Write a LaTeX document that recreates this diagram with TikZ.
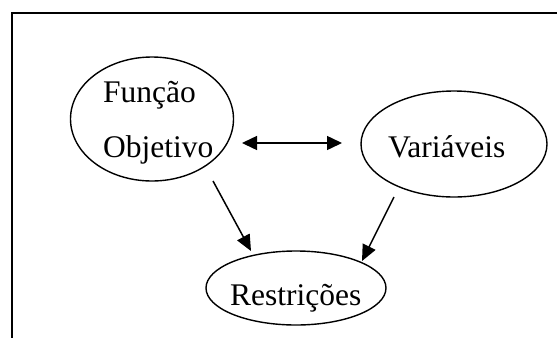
\documentclass[tikz,border=0pt]{standalone}
\usepackage{fontspec}
\setmainfont{Liberation Serif}
\usetikzlibrary{arrows.meta,shapes.geometric}
\begin{document}
\begin{tikzpicture}[x=1pt,y=-1pt,
  oval/.style={draw,ellipse,line width=1.4pt,inner sep=0pt,outer sep=0pt},
  lbl/.style={anchor=base west,inner sep=0pt,font=\fontsize{31.5}{38}\selectfont},
  arr/.style={line width=1.5pt,-{Triangle[length=16pt,width=14pt]}},
  darr/.style={line width=1.5pt,{Triangle[length=15pt,width=14pt]}-{Triangle[length=15pt,width=14pt]}}]
\useasboundingbox (0,0) rectangle (557,338);
% frame (cropped)
\coordinate (tr) at (557,13);
\coordinate (tl) at (12,13);
\coordinate (bl) at (12,338);
\draw[line width=2pt] (tr) -- (tl) -- (bl);
% ellipses
\node[oval,minimum width=163pt,minimum height=124pt] (fo) at (152,119) {};
\node[oval,minimum width=186pt,minimum height=106pt] (va) at (454,144) {};
\node[oval,minimum width=180pt,minimum height=74pt] (re) at (296,288) {};
% texts
\node[lbl] (t1) at (103,102) {Função};
\node[lbl] (t2) at (103,157) {Objetivo};
\node[lbl] (t3) at (388,157) {Variáveis};
\node[lbl] (t4) at (230,305) {Restrições};
% connectors
\draw[darr] ([shift={(90,24)}]fo.center) -- ([shift={(-112,-1)}]va.center);
\draw[arr] ([shift={(61,62)}]fo.center) -- ([shift={(-45,-37)}]re.center);
\draw[arr] ([shift={(-60,53)}]va.center) -- ([shift={(66,-27)}]re.center);
\end{tikzpicture}
\end{document}
